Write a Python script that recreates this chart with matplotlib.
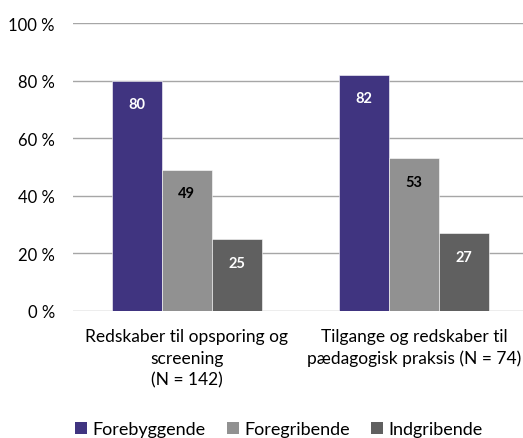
import numpy as np
import matplotlib
from matplotlib import pyplot as plt
from matplotlib.patches import Patch

categories = ['Redskaber til opsporing og\nscreening\n(N = 142)',
              'Tilgange og redskaber til\npædagogisk praksis (N = 74)']
series = ['Forebyggende', 'Foregribende', 'Indgribende']
forebyggende = [80, 82]
foregribende = [49, 53]
indgribende = [25, 27]

colors = ['#403480', '#919191', '#606060']
label_colors = ['white', 'black', 'white']

matplotlib.rc('font', family=['Lato', 'DejaVu Sans'], size=12.5)

fig = plt.figure(figsize=(5.23, 4.39), dpi=100)
ax = fig.add_axes([0.1396, 0.2893, 0.8604, 0.656])

x = np.arange(len(categories))
w = 0.22
for i, (vals, c, lc) in enumerate(zip([forebyggende, foregribende, indgribende], colors, label_colors)):
  pos = x + (i - 1) * w
  ax.bar(pos, vals, width=w, color=c, edgecolor='white', linewidth=0.4, zorder=3)
  for p, v in zip(pos, vals):
    ax.annotate(str(v), (p, v), xytext=(0, -17), textcoords='offset points',
                ha='center', va='center', color=lc, fontsize=10.5, fontweight='bold', zorder=4)

ax.set_xlim(-0.5, 1.48)
ax.set_ylim(0, 100)
ax.set_yticks(range(0, 101, 20))
ax.set_yticklabels(['{} %'.format(t) for t in range(0, 101, 20)], fontsize=12)
ax.set_xticks(x)
ax.set_xticklabels(categories, linespacing=1.45)
ax.yaxis.grid(True, color='#a6a6a6', linewidth=1.0, zorder=0)
ax.tick_params(axis='x', length=0, pad=12)
ax.tick_params(axis='y', length=0, pad=13)
for s in ax.spines.values():
  s.set_visible(False)

handles = [Patch(facecolor=c, label=s) for c, s in zip(colors, series)]
fig.legend(handles=handles, loc='lower center', bbox_to_anchor=(0.533, -0.035), ncol=3,
           frameon=False, handlelength=0.65, handleheight=0.65, handletextpad=0.3,
           columnspacing=1.2, fontsize=13)

fig.savefig('out.png', dpi=100)
